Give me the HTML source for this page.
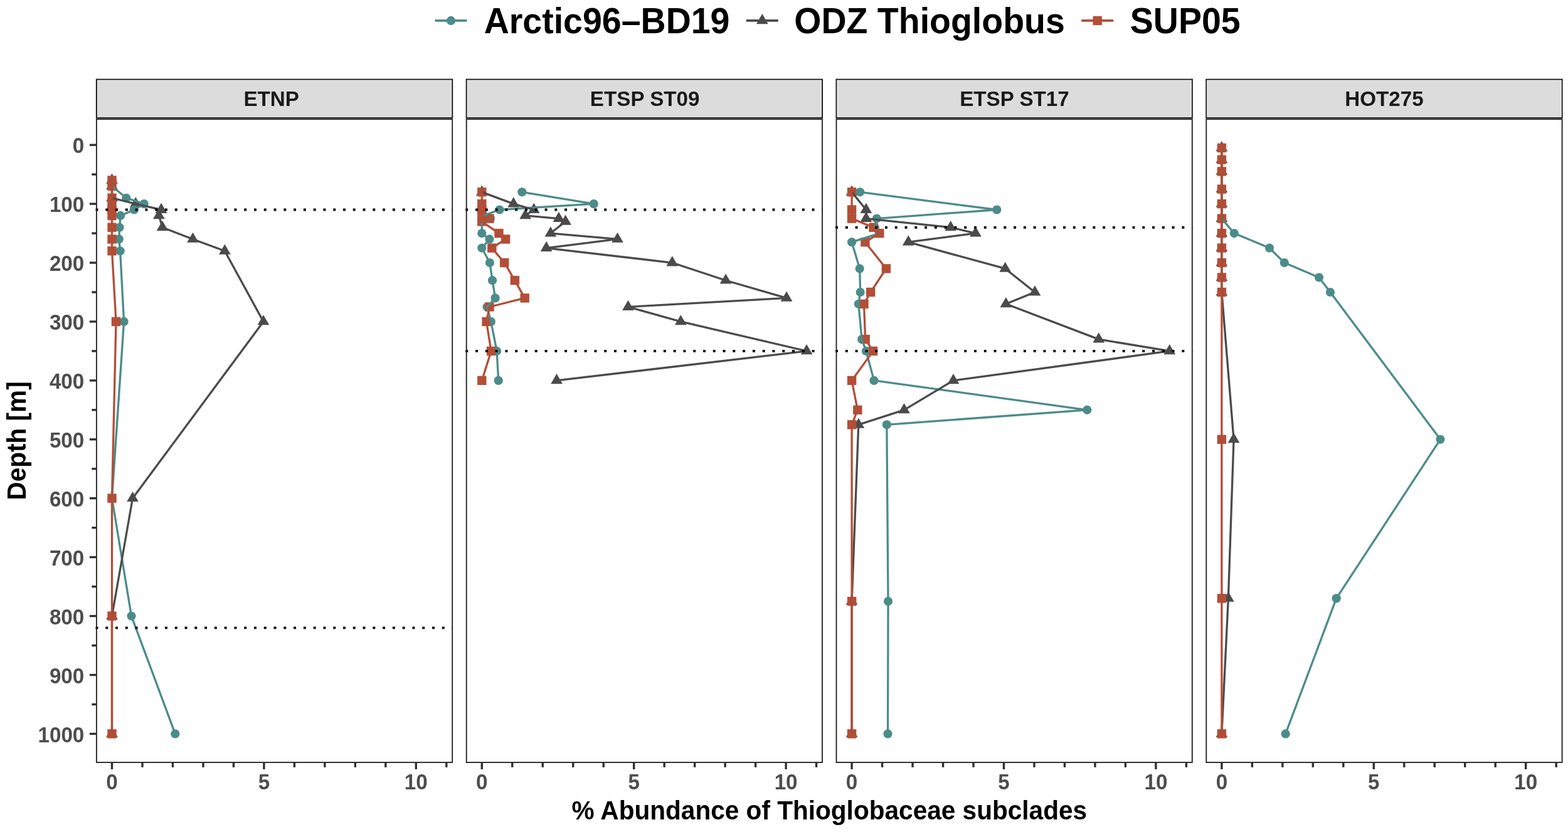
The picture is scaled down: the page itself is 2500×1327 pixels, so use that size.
<!DOCTYPE html><html><head><meta charset="utf-8"><title>Thioglobaceae subclades</title>
<style>html,body{margin:0;padding:0;background:#fff;width:2500px;height:1327px;overflow:hidden}svg{display:block}</style></head><body>
<svg width="2500" height="1327" viewBox="0 0 2500 1327">
<rect width="2500" height="1327" fill="#fff"/>
<g font-family="'Liberation Sans', Arial, Helvetica, sans-serif" font-weight="bold">
<line x1="693.5" y1="32.9" x2="744.5" y2="32.9" stroke="#4B8C8A" stroke-width="3.6"/>
<circle cx="719.00" cy="32.90" r="7.1" fill="#4B8C8A"/>
<text transform="translate(771.7,53.2) scale(1,1.04)" font-size="55.5" fill="#000">Arctic96–BD19</text>
<line x1="1189.8" y1="32.9" x2="1240.8" y2="32.9" stroke="#4B4B4B" stroke-width="3.6"/>
<polygon points="1215.30,22.10 1224.65,38.30 1205.95,38.30" fill="#4B4B4B"/>
<text transform="translate(1266.3,53.2) scale(1,1.04)" font-size="55.5" fill="#000">ODZ Thioglobus</text>
<line x1="1724.2" y1="32.9" x2="1775.2" y2="32.9" stroke="#B34E37" stroke-width="3.6"/>
<rect x="1742.50" y="25.70" width="14.4" height="14.4" fill="#B34E37"/>
<text transform="translate(1801.8,53.2) scale(1,1.04)" font-size="55.5" fill="#000">SUP05</text>
</g>
<rect x="153.90" y="126.7" width="567.3" height="61.10" fill="#DCDCDC" stroke="#222222" stroke-width="2.1"/>
<rect x="155.45" y="128.25" width="564.20" height="58.00" fill="none" stroke="#F2F2F2" stroke-width="0.9"/>
<text transform="translate(432.65,169.1) scale(1,1.02)" text-anchor="middle" font-size="33.2" fill="#1A1A1A" font-family="'Liberation Sans', Arial, Helvetica, sans-serif" font-weight="bold">ETNP</text>
<rect x="153.90" y="190.1" width="567.3" height="1025.90" fill="#fff"/>
<polygon points="178.50,276.75 187.85,292.95 169.15,292.95" fill="#4B4B4B"/><polygon points="178.50,286.14 187.85,302.34 169.15,302.34" fill="#4B4B4B"/><polygon points="178.50,304.93 187.85,321.13 169.15,321.13" fill="#4B4B4B"/><polygon points="216.31,314.32 225.67,330.52 206.96,330.52" fill="#4B4B4B"/><polygon points="257.04,323.71 266.39,339.91 247.68,339.91" fill="#4B4B4B"/><polygon points="253.40,333.10 262.75,349.30 244.05,349.30" fill="#4B4B4B"/><polygon points="258.98,351.89 268.33,368.09 249.62,368.09" fill="#4B4B4B"/><polygon points="307.46,370.67 316.81,386.87 298.10,386.87" fill="#4B4B4B"/><polygon points="358.36,389.46 367.71,405.66 349.01,405.66" fill="#4B4B4B"/><polygon points="419.93,502.16 429.28,518.36 410.58,518.36" fill="#4B4B4B"/><polygon points="211.47,783.92 220.82,800.12 202.11,800.12" fill="#4B4B4B"/><polygon points="178.50,971.76 187.85,987.96 169.15,987.96" fill="#4B4B4B"/><polygon points="178.50,1159.60 187.85,1175.80 169.15,1175.80" fill="#4B4B4B"/><circle cx="178.50" cy="287.55" r="7.1" fill="#4B8C8A"/><circle cx="178.50" cy="296.94" r="7.1" fill="#4B8C8A"/><circle cx="201.29" cy="315.73" r="7.1" fill="#4B8C8A"/><circle cx="229.69" cy="325.12" r="7.1" fill="#4B8C8A"/><circle cx="213.89" cy="334.51" r="7.1" fill="#4B8C8A"/><circle cx="192.07" cy="343.90" r="7.1" fill="#4B8C8A"/><circle cx="190.62" cy="362.69" r="7.1" fill="#4B8C8A"/><circle cx="189.80" cy="381.47" r="7.1" fill="#4B8C8A"/><circle cx="191.59" cy="400.26" r="7.1" fill="#4B8C8A"/><circle cx="197.60" cy="512.96" r="7.1" fill="#4B8C8A"/><circle cx="178.50" cy="794.72" r="7.1" fill="#4B8C8A"/><circle cx="209.53" cy="982.56" r="7.1" fill="#4B8C8A"/><circle cx="279.34" cy="1170.40" r="7.1" fill="#4B8C8A"/><rect x="171.30" y="280.35" width="14.4" height="14.4" fill="#B34E37"/><rect x="171.30" y="289.74" width="14.4" height="14.4" fill="#B34E37"/><rect x="171.30" y="308.53" width="14.4" height="14.4" fill="#B34E37"/><rect x="171.30" y="317.92" width="14.4" height="14.4" fill="#B34E37"/><rect x="171.30" y="327.31" width="14.4" height="14.4" fill="#B34E37"/><rect x="171.30" y="336.70" width="14.4" height="14.4" fill="#B34E37"/><rect x="171.30" y="355.49" width="14.4" height="14.4" fill="#B34E37"/><rect x="171.30" y="374.27" width="14.4" height="14.4" fill="#B34E37"/><rect x="171.30" y="393.06" width="14.4" height="14.4" fill="#B34E37"/><rect x="177.80" y="505.76" width="14.4" height="14.4" fill="#B34E37"/><rect x="171.30" y="787.52" width="14.4" height="14.4" fill="#B34E37"/><rect x="171.30" y="975.36" width="14.4" height="14.4" fill="#B34E37"/><rect x="171.30" y="1163.20" width="14.4" height="14.4" fill="#B34E37"/>
<polyline points="178.50,287.55 178.50,296.94 201.29,315.73 229.69,325.12 213.89,334.51 192.07,343.90 190.62,362.69 189.80,381.47 191.59,400.26 197.60,512.96 178.50,794.72 209.53,982.56 279.34,1170.40" fill="none" stroke="#4B8C8A" stroke-width="3.3" stroke-linejoin="round" stroke-linecap="butt"/>
<polyline points="178.50,287.55 178.50,296.94 178.50,315.73 216.31,325.12 257.04,334.51 253.40,343.90 258.98,362.69 307.46,381.47 358.36,400.26 419.93,512.96 211.47,794.72 178.50,982.56 178.50,1170.40" fill="none" stroke="#4B4B4B" stroke-width="3.3" stroke-linejoin="round" stroke-linecap="butt"/>
<polyline points="178.50,287.55 178.50,296.94 178.50,315.73 178.50,325.12 178.50,334.51 178.50,343.90 178.50,362.69 178.50,381.47 178.50,400.26 185.00,512.96 178.50,794.72 178.50,982.56 178.50,1170.40" fill="none" stroke="#B34E37" stroke-width="3.3" stroke-linejoin="round" stroke-linecap="butt"/>
<line x1="152.50" y1="334.51" x2="721.80" y2="334.51" stroke="#000" stroke-width="3.9" stroke-dasharray="3.945 11.835"/>
<line x1="152.50" y1="1001.34" x2="721.80" y2="1001.34" stroke="#000" stroke-width="3.9" stroke-dasharray="3.945 11.835"/>
<rect x="153.90" y="190.1" width="567.3" height="1025.90" fill="none" stroke="#222222" stroke-width="1.85"/>
<line x1="178.50" y1="1216.00" x2="178.50" y2="1227.00" stroke="#303030" stroke-width="3.4"/><line x1="226.98" y1="1216.00" x2="226.98" y2="1223.80" stroke="#303030" stroke-width="3.4"/><line x1="275.46" y1="1216.00" x2="275.46" y2="1223.80" stroke="#303030" stroke-width="3.4"/><line x1="323.94" y1="1216.00" x2="323.94" y2="1223.80" stroke="#303030" stroke-width="3.4"/><line x1="372.42" y1="1216.00" x2="372.42" y2="1223.80" stroke="#303030" stroke-width="3.4"/><line x1="420.90" y1="1216.00" x2="420.90" y2="1227.00" stroke="#303030" stroke-width="3.4"/><line x1="469.38" y1="1216.00" x2="469.38" y2="1223.80" stroke="#303030" stroke-width="3.4"/><line x1="517.86" y1="1216.00" x2="517.86" y2="1223.80" stroke="#303030" stroke-width="3.4"/><line x1="566.34" y1="1216.00" x2="566.34" y2="1223.80" stroke="#303030" stroke-width="3.4"/><line x1="614.82" y1="1216.00" x2="614.82" y2="1223.80" stroke="#303030" stroke-width="3.4"/><line x1="663.30" y1="1216.00" x2="663.30" y2="1227.00" stroke="#303030" stroke-width="3.4"/><line x1="711.78" y1="1216.00" x2="711.78" y2="1223.80" stroke="#303030" stroke-width="3.4"/>
<g font-family="'Liberation Sans', Arial, Helvetica, sans-serif" font-weight="bold" font-size="33.2" fill="#4D4D4D" text-anchor="middle">
<text transform="translate(178.50,1259.4) scale(1,1.03)">0</text>
<text transform="translate(420.90,1259.4) scale(1,1.03)">5</text>
<text transform="translate(663.30,1259.4) scale(1,1.03)">10</text>
</g>
<rect x="743.70" y="126.7" width="567.3" height="61.10" fill="#DCDCDC" stroke="#222222" stroke-width="2.1"/>
<rect x="745.25" y="128.25" width="564.20" height="58.00" fill="none" stroke="#F2F2F2" stroke-width="0.9"/>
<text transform="translate(1028.15,169.1) scale(1,1.02)" text-anchor="middle" font-size="33.2" fill="#1A1A1A" font-family="'Liberation Sans', Arial, Helvetica, sans-serif" font-weight="bold">ETSP ST09</text>
<rect x="743.70" y="190.1" width="567.3" height="1025.90" fill="#fff"/>
<polygon points="768.30,295.54 777.65,311.74 758.95,311.74" fill="#4B4B4B"/><polygon points="818.72,314.32 828.07,330.52 809.37,330.52" fill="#4B4B4B"/><polygon points="851.20,323.71 860.55,339.91 841.85,339.91" fill="#4B4B4B"/><polygon points="837.63,333.10 846.98,349.30 828.27,349.30" fill="#4B4B4B"/><polygon points="890.95,337.80 900.31,354.00 881.60,354.00" fill="#4B4B4B"/><polygon points="901.62,342.50 910.97,358.70 892.27,358.70" fill="#4B4B4B"/><polygon points="877.86,361.28 887.22,377.48 868.51,377.48" fill="#4B4B4B"/><polygon points="984.52,370.67 993.87,386.87 975.17,386.87" fill="#4B4B4B"/><polygon points="871.08,384.76 880.43,400.96 861.72,400.96" fill="#4B4B4B"/><polygon points="1071.78,408.24 1081.14,424.44 1062.43,424.44" fill="#4B4B4B"/><polygon points="1157.11,436.42 1166.46,452.62 1147.76,452.62" fill="#4B4B4B"/><polygon points="1254.07,464.59 1263.42,480.79 1244.72,480.79" fill="#4B4B4B"/><polygon points="1001.49,478.68 1010.84,494.88 992.14,494.88" fill="#4B4B4B"/><polygon points="1085.36,502.16 1094.71,518.36 1076.01,518.36" fill="#4B4B4B"/><polygon points="1286.07,549.12 1295.42,565.32 1276.71,565.32" fill="#4B4B4B"/><polygon points="887.56,596.08 896.91,612.28 878.21,612.28" fill="#4B4B4B"/><circle cx="832.29" cy="306.34" r="7.1" fill="#4B8C8A"/><circle cx="946.71" cy="325.12" r="7.1" fill="#4B8C8A"/><circle cx="796.42" cy="334.51" r="7.1" fill="#4B8C8A"/><circle cx="770.97" cy="343.90" r="7.1" fill="#4B8C8A"/><circle cx="781.87" cy="348.60" r="7.1" fill="#4B8C8A"/><circle cx="768.30" cy="353.30" r="7.1" fill="#4B8C8A"/><circle cx="768.30" cy="372.08" r="7.1" fill="#4B8C8A"/><circle cx="780.42" cy="381.47" r="7.1" fill="#4B8C8A"/><circle cx="768.30" cy="395.56" r="7.1" fill="#4B8C8A"/><circle cx="780.90" cy="419.04" r="7.1" fill="#4B8C8A"/><circle cx="785.03" cy="447.22" r="7.1" fill="#4B8C8A"/><circle cx="789.63" cy="475.39" r="7.1" fill="#4B8C8A"/><circle cx="776.54" cy="489.48" r="7.1" fill="#4B8C8A"/><circle cx="782.84" cy="512.96" r="7.1" fill="#4B8C8A"/><circle cx="792.06" cy="559.92" r="7.1" fill="#4B8C8A"/><circle cx="794.72" cy="606.88" r="7.1" fill="#4B8C8A"/><rect x="761.10" y="299.14" width="14.4" height="14.4" fill="#B34E37"/><rect x="761.10" y="317.92" width="14.4" height="14.4" fill="#B34E37"/><rect x="761.10" y="327.31" width="14.4" height="14.4" fill="#B34E37"/><rect x="761.10" y="336.70" width="14.4" height="14.4" fill="#B34E37"/><rect x="773.22" y="341.40" width="14.4" height="14.4" fill="#B34E37"/><rect x="761.10" y="346.10" width="14.4" height="14.4" fill="#B34E37"/><rect x="788.25" y="364.88" width="14.4" height="14.4" fill="#B34E37"/><rect x="798.91" y="374.27" width="14.4" height="14.4" fill="#B34E37"/><rect x="777.10" y="388.36" width="14.4" height="14.4" fill="#B34E37"/><rect x="796.98" y="411.84" width="14.4" height="14.4" fill="#B34E37"/><rect x="813.70" y="440.02" width="14.4" height="14.4" fill="#B34E37"/><rect x="829.46" y="468.19" width="14.4" height="14.4" fill="#B34E37"/><rect x="773.22" y="482.28" width="14.4" height="14.4" fill="#B34E37"/><rect x="768.37" y="505.76" width="14.4" height="14.4" fill="#B34E37"/><rect x="775.89" y="552.72" width="14.4" height="14.4" fill="#B34E37"/><rect x="761.10" y="599.68" width="14.4" height="14.4" fill="#B34E37"/>
<polyline points="832.29,306.34 946.71,325.12 796.42,334.51 770.97,343.90 781.87,348.60 768.30,353.30 768.30,372.08 780.42,381.47 768.30,395.56 780.90,419.04 785.03,447.22 789.63,475.39 776.54,489.48 782.84,512.96 792.06,559.92 794.72,606.88" fill="none" stroke="#4B8C8A" stroke-width="3.3" stroke-linejoin="round" stroke-linecap="butt"/>
<polyline points="768.30,306.34 818.72,325.12 851.20,334.51 837.63,343.90 890.95,348.60 901.62,353.30 877.86,372.08 984.52,381.47 871.08,395.56 1071.78,419.04 1157.11,447.22 1254.07,475.39 1001.49,489.48 1085.36,512.96 1286.07,559.92 887.56,606.88" fill="none" stroke="#4B4B4B" stroke-width="3.3" stroke-linejoin="round" stroke-linecap="butt"/>
<polyline points="768.30,306.34 768.30,325.12 768.30,334.51 768.30,343.90 780.42,348.60 768.30,353.30 795.45,372.08 806.11,381.47 784.30,395.56 804.18,419.04 820.90,447.22 836.66,475.39 780.42,489.48 775.57,512.96 783.09,559.92 768.30,606.88" fill="none" stroke="#B34E37" stroke-width="3.3" stroke-linejoin="round" stroke-linecap="butt"/>
<line x1="742.30" y1="334.51" x2="1311.60" y2="334.51" stroke="#000" stroke-width="3.9" stroke-dasharray="3.945 11.835"/>
<line x1="742.30" y1="559.92" x2="1311.60" y2="559.92" stroke="#000" stroke-width="3.9" stroke-dasharray="3.945 11.835"/>
<rect x="743.70" y="190.1" width="567.3" height="1025.90" fill="none" stroke="#222222" stroke-width="1.85"/>
<line x1="768.30" y1="1216.00" x2="768.30" y2="1227.00" stroke="#303030" stroke-width="3.4"/><line x1="816.78" y1="1216.00" x2="816.78" y2="1223.80" stroke="#303030" stroke-width="3.4"/><line x1="865.26" y1="1216.00" x2="865.26" y2="1223.80" stroke="#303030" stroke-width="3.4"/><line x1="913.74" y1="1216.00" x2="913.74" y2="1223.80" stroke="#303030" stroke-width="3.4"/><line x1="962.22" y1="1216.00" x2="962.22" y2="1223.80" stroke="#303030" stroke-width="3.4"/><line x1="1010.70" y1="1216.00" x2="1010.70" y2="1227.00" stroke="#303030" stroke-width="3.4"/><line x1="1059.18" y1="1216.00" x2="1059.18" y2="1223.80" stroke="#303030" stroke-width="3.4"/><line x1="1107.66" y1="1216.00" x2="1107.66" y2="1223.80" stroke="#303030" stroke-width="3.4"/><line x1="1156.14" y1="1216.00" x2="1156.14" y2="1223.80" stroke="#303030" stroke-width="3.4"/><line x1="1204.62" y1="1216.00" x2="1204.62" y2="1223.80" stroke="#303030" stroke-width="3.4"/><line x1="1253.10" y1="1216.00" x2="1253.10" y2="1227.00" stroke="#303030" stroke-width="3.4"/><line x1="1301.58" y1="1216.00" x2="1301.58" y2="1223.80" stroke="#303030" stroke-width="3.4"/>
<g font-family="'Liberation Sans', Arial, Helvetica, sans-serif" font-weight="bold" font-size="33.2" fill="#4D4D4D" text-anchor="middle">
<text transform="translate(768.30,1259.4) scale(1,1.03)">0</text>
<text transform="translate(1010.70,1259.4) scale(1,1.03)">5</text>
<text transform="translate(1253.10,1259.4) scale(1,1.03)">10</text>
</g>
<rect x="1333.50" y="126.7" width="567.3" height="61.10" fill="#DCDCDC" stroke="#222222" stroke-width="2.1"/>
<rect x="1335.05" y="128.25" width="564.20" height="58.00" fill="none" stroke="#F2F2F2" stroke-width="0.9"/>
<text transform="translate(1617.45,169.1) scale(1,1.02)" text-anchor="middle" font-size="33.2" fill="#1A1A1A" font-family="'Liberation Sans', Arial, Helvetica, sans-serif" font-weight="bold">ETSP ST17</text>
<rect x="1333.50" y="190.1" width="567.3" height="1025.90" fill="#fff"/>
<polygon points="1358.10,295.54 1367.45,311.74 1348.75,311.74" fill="#4B4B4B"/><polygon points="1380.89,323.71 1390.24,339.91 1371.53,339.91" fill="#4B4B4B"/><polygon points="1380.89,337.80 1390.24,354.00 1371.53,354.00" fill="#4B4B4B"/><polygon points="1515.66,351.89 1525.01,368.09 1506.31,368.09" fill="#4B4B4B"/><polygon points="1555.41,361.28 1564.77,377.48 1546.06,377.48" fill="#4B4B4B"/><polygon points="1448.27,375.37 1457.63,391.57 1438.92,391.57" fill="#4B4B4B"/><polygon points="1602.68,417.63 1612.03,433.83 1593.33,433.83" fill="#4B4B4B"/><polygon points="1649.95,455.20 1659.30,471.40 1640.60,471.40" fill="#4B4B4B"/><polygon points="1603.89,473.98 1613.25,490.18 1594.54,490.18" fill="#4B4B4B"/><polygon points="1751.76,530.34 1761.11,546.54 1742.40,546.54" fill="#4B4B4B"/><polygon points="1864.72,549.12 1874.07,565.32 1855.36,565.32" fill="#4B4B4B"/><polygon points="1520.02,596.08 1529.38,612.28 1510.67,612.28" fill="#4B4B4B"/><polygon points="1441.49,643.04 1450.84,659.24 1432.13,659.24" fill="#4B4B4B"/><polygon points="1368.77,666.52 1378.12,682.72 1359.41,682.72" fill="#4B4B4B"/><polygon points="1358.10,948.28 1367.45,964.48 1348.75,964.48" fill="#4B4B4B"/><polygon points="1358.10,1159.60 1367.45,1175.80 1348.75,1175.80" fill="#4B4B4B"/><circle cx="1371.19" cy="306.34" r="7.1" fill="#4B8C8A"/><circle cx="1589.35" cy="334.51" r="7.1" fill="#4B8C8A"/><circle cx="1397.85" cy="348.60" r="7.1" fill="#4B8C8A"/><circle cx="1394.94" cy="362.69" r="7.1" fill="#4B8C8A"/><circle cx="1402.22" cy="372.08" r="7.1" fill="#4B8C8A"/><circle cx="1358.10" cy="386.17" r="7.1" fill="#4B8C8A"/><circle cx="1370.70" cy="428.43" r="7.1" fill="#4B8C8A"/><circle cx="1371.67" cy="466.00" r="7.1" fill="#4B8C8A"/><circle cx="1368.77" cy="484.78" r="7.1" fill="#4B8C8A"/><circle cx="1374.10" cy="541.14" r="7.1" fill="#4B8C8A"/><circle cx="1380.89" cy="559.92" r="7.1" fill="#4B8C8A"/><circle cx="1393.49" cy="606.88" r="7.1" fill="#4B8C8A"/><circle cx="1733.34" cy="653.84" r="7.1" fill="#4B8C8A"/><circle cx="1413.85" cy="677.32" r="7.1" fill="#4B8C8A"/><circle cx="1416.03" cy="959.08" r="7.1" fill="#4B8C8A"/><circle cx="1415.55" cy="1170.40" r="7.1" fill="#4B8C8A"/><rect x="1350.90" y="299.14" width="14.4" height="14.4" fill="#B34E37"/><rect x="1350.90" y="327.31" width="14.4" height="14.4" fill="#B34E37"/><rect x="1350.90" y="341.40" width="14.4" height="14.4" fill="#B34E37"/><rect x="1385.32" y="355.49" width="14.4" height="14.4" fill="#B34E37"/><rect x="1395.02" y="364.88" width="14.4" height="14.4" fill="#B34E37"/><rect x="1372.23" y="378.97" width="14.4" height="14.4" fill="#B34E37"/><rect x="1405.68" y="421.23" width="14.4" height="14.4" fill="#B34E37"/><rect x="1380.96" y="458.80" width="14.4" height="14.4" fill="#B34E37"/><rect x="1370.29" y="477.58" width="14.4" height="14.4" fill="#B34E37"/><rect x="1372.47" y="533.94" width="14.4" height="14.4" fill="#B34E37"/><rect x="1384.84" y="552.72" width="14.4" height="14.4" fill="#B34E37"/><rect x="1350.90" y="599.68" width="14.4" height="14.4" fill="#B34E37"/><rect x="1360.11" y="646.64" width="14.4" height="14.4" fill="#B34E37"/><rect x="1350.90" y="670.12" width="14.4" height="14.4" fill="#B34E37"/><rect x="1350.90" y="951.88" width="14.4" height="14.4" fill="#B34E37"/><rect x="1350.90" y="1163.20" width="14.4" height="14.4" fill="#B34E37"/>
<polyline points="1371.19,306.34 1589.35,334.51 1397.85,348.60 1394.94,362.69 1402.22,372.08 1358.10,386.17 1370.70,428.43 1371.67,466.00 1368.77,484.78 1374.10,541.14 1380.89,559.92 1393.49,606.88 1733.34,653.84 1413.85,677.32 1416.03,959.08 1415.55,1170.40" fill="none" stroke="#4B8C8A" stroke-width="3.3" stroke-linejoin="round" stroke-linecap="butt"/>
<polyline points="1358.10,306.34 1380.89,334.51 1380.89,348.60 1515.66,362.69 1555.41,372.08 1448.27,386.17 1602.68,428.43 1649.95,466.00 1603.89,484.78 1751.76,541.14 1864.72,559.92 1520.02,606.88 1441.49,653.84 1368.77,677.32 1358.10,959.08 1358.10,1170.40" fill="none" stroke="#4B4B4B" stroke-width="3.3" stroke-linejoin="round" stroke-linecap="butt"/>
<polyline points="1358.10,306.34 1358.10,334.51 1358.10,348.60 1392.52,362.69 1402.22,372.08 1379.43,386.17 1412.88,428.43 1388.16,466.00 1377.49,484.78 1379.67,541.14 1392.04,559.92 1358.10,606.88 1367.31,653.84 1358.10,677.32 1358.10,959.08 1358.10,1170.40" fill="none" stroke="#B34E37" stroke-width="3.3" stroke-linejoin="round" stroke-linecap="butt"/>
<line x1="1332.10" y1="362.69" x2="1901.40" y2="362.69" stroke="#000" stroke-width="3.9" stroke-dasharray="3.945 11.835"/>
<line x1="1332.10" y1="559.92" x2="1901.40" y2="559.92" stroke="#000" stroke-width="3.9" stroke-dasharray="3.945 11.835"/>
<rect x="1333.50" y="190.1" width="567.3" height="1025.90" fill="none" stroke="#222222" stroke-width="1.85"/>
<line x1="1358.10" y1="1216.00" x2="1358.10" y2="1227.00" stroke="#303030" stroke-width="3.4"/><line x1="1406.58" y1="1216.00" x2="1406.58" y2="1223.80" stroke="#303030" stroke-width="3.4"/><line x1="1455.06" y1="1216.00" x2="1455.06" y2="1223.80" stroke="#303030" stroke-width="3.4"/><line x1="1503.54" y1="1216.00" x2="1503.54" y2="1223.80" stroke="#303030" stroke-width="3.4"/><line x1="1552.02" y1="1216.00" x2="1552.02" y2="1223.80" stroke="#303030" stroke-width="3.4"/><line x1="1600.50" y1="1216.00" x2="1600.50" y2="1227.00" stroke="#303030" stroke-width="3.4"/><line x1="1648.98" y1="1216.00" x2="1648.98" y2="1223.80" stroke="#303030" stroke-width="3.4"/><line x1="1697.46" y1="1216.00" x2="1697.46" y2="1223.80" stroke="#303030" stroke-width="3.4"/><line x1="1745.94" y1="1216.00" x2="1745.94" y2="1223.80" stroke="#303030" stroke-width="3.4"/><line x1="1794.42" y1="1216.00" x2="1794.42" y2="1223.80" stroke="#303030" stroke-width="3.4"/><line x1="1842.90" y1="1216.00" x2="1842.90" y2="1227.00" stroke="#303030" stroke-width="3.4"/><line x1="1891.38" y1="1216.00" x2="1891.38" y2="1223.80" stroke="#303030" stroke-width="3.4"/>
<g font-family="'Liberation Sans', Arial, Helvetica, sans-serif" font-weight="bold" font-size="33.2" fill="#4D4D4D" text-anchor="middle">
<text transform="translate(1358.10,1259.4) scale(1,1.03)">0</text>
<text transform="translate(1600.50,1259.4) scale(1,1.03)">5</text>
<text transform="translate(1842.90,1259.4) scale(1,1.03)">10</text>
</g>
<rect x="1923.30" y="126.7" width="567.3" height="61.10" fill="#DCDCDC" stroke="#222222" stroke-width="2.1"/>
<rect x="1924.85" y="128.25" width="564.20" height="58.00" fill="none" stroke="#F2F2F2" stroke-width="0.9"/>
<text transform="translate(2206.95,169.1) scale(1,1.02)" text-anchor="middle" font-size="33.2" fill="#1A1A1A" font-family="'Liberation Sans', Arial, Helvetica, sans-serif" font-weight="bold">HOT275</text>
<rect x="1923.30" y="190.1" width="567.3" height="1025.90" fill="#fff"/>
<polygon points="1947.90,225.10 1957.25,241.30 1938.55,241.30" fill="#4B4B4B"/><polygon points="1947.90,243.88 1957.25,260.08 1938.55,260.08" fill="#4B4B4B"/><polygon points="1947.90,262.66 1957.25,278.86 1938.55,278.86" fill="#4B4B4B"/><polygon points="1947.90,290.84 1957.25,307.04 1938.55,307.04" fill="#4B4B4B"/><polygon points="1947.90,314.32 1957.25,330.52 1938.55,330.52" fill="#4B4B4B"/><polygon points="1947.90,337.80 1957.25,354.00 1938.55,354.00" fill="#4B4B4B"/><polygon points="1947.90,361.28 1957.25,377.48 1938.55,377.48" fill="#4B4B4B"/><polygon points="1947.90,384.76 1957.25,400.96 1938.55,400.96" fill="#4B4B4B"/><polygon points="1947.90,408.24 1957.25,424.44 1938.55,424.44" fill="#4B4B4B"/><polygon points="1947.90,431.72 1957.25,447.92 1938.55,447.92" fill="#4B4B4B"/><polygon points="1947.90,455.20 1957.25,471.40 1938.55,471.40" fill="#4B4B4B"/><polygon points="1967.05,690.00 1976.40,706.20 1957.70,706.20" fill="#4B4B4B"/><polygon points="1958.37,943.58 1967.72,959.78 1949.02,959.78" fill="#4B4B4B"/><polygon points="1947.90,1159.60 1957.25,1175.80 1938.55,1175.80" fill="#4B4B4B"/><circle cx="1947.90" cy="235.90" r="7.1" fill="#4B8C8A"/><circle cx="1947.90" cy="254.68" r="7.1" fill="#4B8C8A"/><circle cx="1947.90" cy="273.46" r="7.1" fill="#4B8C8A"/><circle cx="1947.90" cy="301.64" r="7.1" fill="#4B8C8A"/><circle cx="1947.90" cy="325.12" r="7.1" fill="#4B8C8A"/><circle cx="1947.90" cy="348.60" r="7.1" fill="#4B8C8A"/><circle cx="1967.78" cy="372.08" r="7.1" fill="#4B8C8A"/><circle cx="2024.01" cy="395.56" r="7.1" fill="#4B8C8A"/><circle cx="2047.77" cy="419.04" r="7.1" fill="#4B8C8A"/><circle cx="2103.04" cy="442.52" r="7.1" fill="#4B8C8A"/><circle cx="2120.97" cy="466.00" r="7.1" fill="#4B8C8A"/><circle cx="2296.47" cy="700.80" r="7.1" fill="#4B8C8A"/><circle cx="2130.67" cy="954.38" r="7.1" fill="#4B8C8A"/><circle cx="2049.71" cy="1170.40" r="7.1" fill="#4B8C8A"/><rect x="1940.70" y="228.70" width="14.4" height="14.4" fill="#B34E37"/><rect x="1940.70" y="247.48" width="14.4" height="14.4" fill="#B34E37"/><rect x="1940.70" y="266.26" width="14.4" height="14.4" fill="#B34E37"/><rect x="1940.70" y="294.44" width="14.4" height="14.4" fill="#B34E37"/><rect x="1940.70" y="317.92" width="14.4" height="14.4" fill="#B34E37"/><rect x="1940.70" y="341.40" width="14.4" height="14.4" fill="#B34E37"/><rect x="1940.70" y="364.88" width="14.4" height="14.4" fill="#B34E37"/><rect x="1940.70" y="388.36" width="14.4" height="14.4" fill="#B34E37"/><rect x="1940.70" y="411.84" width="14.4" height="14.4" fill="#B34E37"/><rect x="1940.70" y="435.32" width="14.4" height="14.4" fill="#B34E37"/><rect x="1940.70" y="458.80" width="14.4" height="14.4" fill="#B34E37"/><rect x="1940.70" y="693.60" width="14.4" height="14.4" fill="#B34E37"/><rect x="1940.70" y="947.18" width="14.4" height="14.4" fill="#B34E37"/><rect x="1940.70" y="1163.20" width="14.4" height="14.4" fill="#B34E37"/>
<polyline points="1947.90,235.90 1947.90,254.68 1947.90,273.46 1947.90,301.64 1947.90,325.12 1947.90,348.60 1967.78,372.08 2024.01,395.56 2047.77,419.04 2103.04,442.52 2120.97,466.00 2296.47,700.80 2130.67,954.38 2049.71,1170.40" fill="none" stroke="#4B8C8A" stroke-width="3.3" stroke-linejoin="round" stroke-linecap="butt"/>
<polyline points="1947.90,235.90 1947.90,254.68 1947.90,273.46 1947.90,301.64 1947.90,325.12 1947.90,348.60 1947.90,372.08 1947.90,395.56 1947.90,419.04 1947.90,442.52 1947.90,466.00 1967.05,700.80 1958.37,954.38 1947.90,1170.40" fill="none" stroke="#4B4B4B" stroke-width="3.3" stroke-linejoin="round" stroke-linecap="butt"/>
<polyline points="1947.90,235.90 1947.90,254.68 1947.90,273.46 1947.90,301.64 1947.90,325.12 1947.90,348.60 1947.90,372.08 1947.90,395.56 1947.90,419.04 1947.90,442.52 1947.90,466.00 1947.90,700.80 1947.90,954.38 1947.90,1170.40" fill="none" stroke="#B34E37" stroke-width="3.3" stroke-linejoin="round" stroke-linecap="butt"/>
<rect x="1923.30" y="190.1" width="567.3" height="1025.90" fill="none" stroke="#222222" stroke-width="1.85"/>
<line x1="1947.90" y1="1216.00" x2="1947.90" y2="1227.00" stroke="#303030" stroke-width="3.4"/><line x1="1996.38" y1="1216.00" x2="1996.38" y2="1223.80" stroke="#303030" stroke-width="3.4"/><line x1="2044.86" y1="1216.00" x2="2044.86" y2="1223.80" stroke="#303030" stroke-width="3.4"/><line x1="2093.34" y1="1216.00" x2="2093.34" y2="1223.80" stroke="#303030" stroke-width="3.4"/><line x1="2141.82" y1="1216.00" x2="2141.82" y2="1223.80" stroke="#303030" stroke-width="3.4"/><line x1="2190.30" y1="1216.00" x2="2190.30" y2="1227.00" stroke="#303030" stroke-width="3.4"/><line x1="2238.78" y1="1216.00" x2="2238.78" y2="1223.80" stroke="#303030" stroke-width="3.4"/><line x1="2287.26" y1="1216.00" x2="2287.26" y2="1223.80" stroke="#303030" stroke-width="3.4"/><line x1="2335.74" y1="1216.00" x2="2335.74" y2="1223.80" stroke="#303030" stroke-width="3.4"/><line x1="2384.22" y1="1216.00" x2="2384.22" y2="1223.80" stroke="#303030" stroke-width="3.4"/><line x1="2432.70" y1="1216.00" x2="2432.70" y2="1227.00" stroke="#303030" stroke-width="3.4"/><line x1="2481.18" y1="1216.00" x2="2481.18" y2="1223.80" stroke="#303030" stroke-width="3.4"/>
<g font-family="'Liberation Sans', Arial, Helvetica, sans-serif" font-weight="bold" font-size="33.2" fill="#4D4D4D" text-anchor="middle">
<text transform="translate(1947.90,1259.4) scale(1,1.03)">0</text>
<text transform="translate(2190.30,1259.4) scale(1,1.03)">5</text>
<text transform="translate(2432.70,1259.4) scale(1,1.03)">10</text>
</g>
<line x1="142.90" y1="231.20" x2="153.90" y2="231.20" stroke="#303030" stroke-width="3.4"/><line x1="146.30" y1="278.16" x2="153.90" y2="278.16" stroke="#303030" stroke-width="3.4"/><line x1="142.90" y1="325.12" x2="153.90" y2="325.12" stroke="#303030" stroke-width="3.4"/><line x1="146.30" y1="372.08" x2="153.90" y2="372.08" stroke="#303030" stroke-width="3.4"/><line x1="142.90" y1="419.04" x2="153.90" y2="419.04" stroke="#303030" stroke-width="3.4"/><line x1="146.30" y1="466.00" x2="153.90" y2="466.00" stroke="#303030" stroke-width="3.4"/><line x1="142.90" y1="512.96" x2="153.90" y2="512.96" stroke="#303030" stroke-width="3.4"/><line x1="146.30" y1="559.92" x2="153.90" y2="559.92" stroke="#303030" stroke-width="3.4"/><line x1="142.90" y1="606.88" x2="153.90" y2="606.88" stroke="#303030" stroke-width="3.4"/><line x1="146.30" y1="653.84" x2="153.90" y2="653.84" stroke="#303030" stroke-width="3.4"/><line x1="142.90" y1="700.80" x2="153.90" y2="700.80" stroke="#303030" stroke-width="3.4"/><line x1="146.30" y1="747.76" x2="153.90" y2="747.76" stroke="#303030" stroke-width="3.4"/><line x1="142.90" y1="794.72" x2="153.90" y2="794.72" stroke="#303030" stroke-width="3.4"/><line x1="146.30" y1="841.68" x2="153.90" y2="841.68" stroke="#303030" stroke-width="3.4"/><line x1="142.90" y1="888.64" x2="153.90" y2="888.64" stroke="#303030" stroke-width="3.4"/><line x1="146.30" y1="935.60" x2="153.90" y2="935.60" stroke="#303030" stroke-width="3.4"/><line x1="142.90" y1="982.56" x2="153.90" y2="982.56" stroke="#303030" stroke-width="3.4"/><line x1="146.30" y1="1029.52" x2="153.90" y2="1029.52" stroke="#303030" stroke-width="3.4"/><line x1="142.90" y1="1076.48" x2="153.90" y2="1076.48" stroke="#303030" stroke-width="3.4"/><line x1="146.30" y1="1123.44" x2="153.90" y2="1123.44" stroke="#303030" stroke-width="3.4"/><line x1="142.90" y1="1170.40" x2="153.90" y2="1170.40" stroke="#303030" stroke-width="3.4"/>
<g font-family="'Liberation Sans', Arial, Helvetica, sans-serif" font-weight="bold" font-size="33.2" fill="#4D4D4D" text-anchor="end">
<text transform="translate(134.3,244.30) scale(1,1.03)">0</text>
<text transform="translate(134.3,338.22) scale(1,1.03)">100</text>
<text transform="translate(134.3,432.14) scale(1,1.03)">200</text>
<text transform="translate(134.3,526.06) scale(1,1.03)">300</text>
<text transform="translate(134.3,619.98) scale(1,1.03)">400</text>
<text transform="translate(134.3,713.90) scale(1,1.03)">500</text>
<text transform="translate(134.3,807.82) scale(1,1.03)">600</text>
<text transform="translate(134.3,901.74) scale(1,1.03)">700</text>
<text transform="translate(134.3,995.66) scale(1,1.03)">800</text>
<text transform="translate(134.3,1089.58) scale(1,1.03)">900</text>
<text transform="translate(134.3,1183.50) scale(1,1.03)">1000</text>
</g>
<text transform="translate(1322.3,1306.6) scale(1,1.04)" text-anchor="middle" font-size="40.6" fill="#000" font-family="'Liberation Sans', Arial, Helvetica, sans-serif" font-weight="bold">% Abundance of Thioglobaceae subclades</text>
<text transform="translate(40.6,703) rotate(-90) scale(1,1.04)" text-anchor="middle" font-size="40.6" fill="#000" font-family="'Liberation Sans', Arial, Helvetica, sans-serif" font-weight="bold">Depth [m]</text>
</svg></body></html>
